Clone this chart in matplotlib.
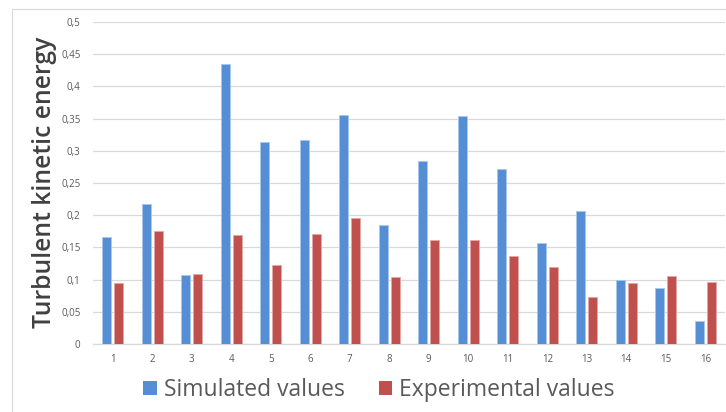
import numpy as np
import matplotlib.pyplot as plt
from matplotlib.patches import Patch, Rectangle

categories = [str(i) for i in range(1, 17)]
simulated = [0.166, 0.218, 0.107, 0.435, 0.313, 0.317, 0.356, 0.185,
             0.284, 0.354, 0.272, 0.157, 0.206, 0.099, 0.087, 0.036]
experimental = [0.095, 0.175, 0.109, 0.169, 0.122, 0.171, 0.196, 0.104,
                0.162, 0.162, 0.137, 0.119, 0.073, 0.095, 0.105, 0.096]
yticks = [0, 0.05, 0.1, 0.15, 0.2, 0.25, 0.3, 0.35, 0.4, 0.45, 0.5]

plt.rcParams['font.family'] = ['Open Sans', 'DejaVu Sans']

blue = '#558ED5'
red = '#C0504D'
grid_col = '#D9D9D9'
text_col = '#595959'

fig = plt.figure(figsize=(7.26, 4.12), dpi=100)
ax = fig.add_axes([93 / 726, 68 / 412, 632 / 726, 322 / 412])

# outer chart frame (cropped on right / bottom)
fig.patches.append(Rectangle((12 / 726, -0.1), 1.2, (412 - 9) / 412 + 0.1,
                             transform=fig.transFigure, fill=False,
                             edgecolor=grid_col, linewidth=0.8))

x = np.arange(len(categories))
w = 0.23
off = 0.147
ax.bar(x - off, simulated, w, color=blue, edgecolor='#A9C6EC',
       linewidth=0.6, zorder=3, label='Simulated values')
ax.bar(x + off, experimental, w, color=red, edgecolor='#E3A9A7',
       linewidth=0.6, zorder=3, label='Experimental values')

ax.set_xlim(-0.5, len(categories) - 0.5)
ax.set_ylim(0, 0.5)
ax.set_yticks(yticks)
ax.set_yticklabels([('%g' % t).replace('.', ',') for t in yticks])
ax.set_xticks(x)
ax.set_xticklabels(categories)
ax.tick_params(length=0, labelsize=7, colors=text_col)
ax.tick_params(axis='y', pad=9)
ax.tick_params(axis='x', pad=7)

ax.grid(axis='y', color=grid_col, linewidth=0.9, zorder=0)
for s in ['top', 'right', 'left']:
    ax.spines[s].set_visible(False)
ax.spines['bottom'].set_color(grid_col)
ax.spines['bottom'].set_linewidth(0.9)

fig.text(45 / 726, 1 - 182 / 412, 'Turbulent kinetic energy', rotation=90,
         ha='center', va='center', fontsize=17.8, fontweight='semibold',
         color='#404040')

handles = [Patch(facecolor=blue, label='Simulated values'),
           Patch(facecolor=red, label='Experimental values')]
fig.legend(handles=handles, loc='center', bbox_to_anchor=(379 / 726, 1 - 390 / 412),
           ncol=2, frameon=False, fontsize=16.5, labelcolor=text_col,
           handlelength=0.58, handleheight=0.58, handletextpad=0.3,
           columnspacing=1.5)

fig.savefig('out.png', dpi=100)
